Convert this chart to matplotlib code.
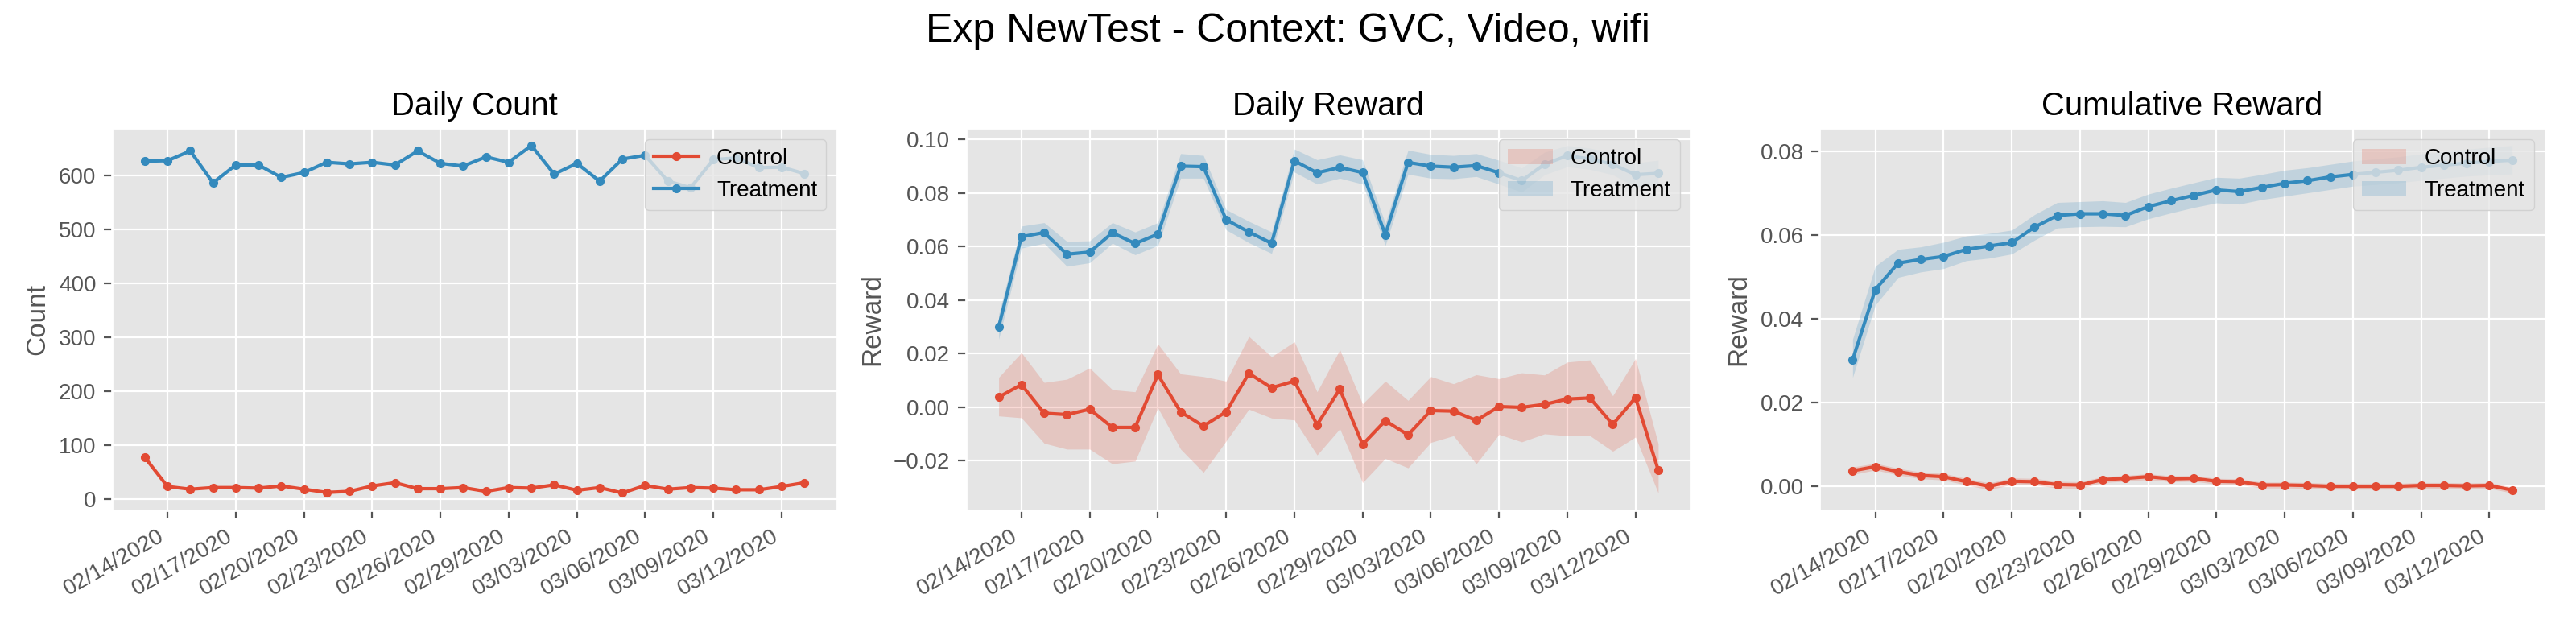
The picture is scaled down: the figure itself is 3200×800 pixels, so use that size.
import numpy as np
import pandas as pd
import matplotlib
matplotlib.use('Agg')
import matplotlib.pyplot as plt
import matplotlib.dates as mdates
plt.style.use('ggplot')
plt.rcParams['font.family'] = ['Liberation Sans', 'DejaVu Sans']

# dates 02/13/2020 .. 03/13/2020
dates = pd.date_range('2020-02-13', '2020-03-13', freq='D')

count_control = [78, 24, 19, 22, 22, 21, 25, 19, 13, 15, 25, 31, 20, 20, 22,
                 15, 22, 21, 27, 17, 22, 12, 26, 19, 22, 21, 18, 18, 24, 31]
count_treatment = [626, 627, 645, 586, 619, 619, 596, 605, 624, 621, 624, 619, 645, 622, 617,
                   634, 624, 655, 602, 622, 589, 630, 637, 589, 577, 629, 632, 614, 615, 603]

daily_control = [0.0037, 0.0084, -0.0023, -0.0028, -0.0008, -0.0076, -0.0076, 0.0121, -0.0018, -0.0071,
                 -0.0018, 0.0126, 0.0072, 0.0097, -0.0066, 0.0067, -0.0140, -0.0051, -0.0104, -0.0013,
                 -0.0015, -0.0050, 0.0002, -0.0001, 0.0010, 0.0030, 0.0034, -0.0065, 0.0035, -0.0235]
daily_control_hi = [0.0111, 0.0203, 0.0092, 0.0104, 0.0146, 0.0065, 0.0057, 0.0236, 0.0124, 0.0114,
                    0.0097, 0.0264, 0.0188, 0.0244, 0.0057, 0.0214, 0.0012, 0.0097, 0.0025, 0.0114,
                    0.0087, 0.0121, 0.0106, 0.0128, 0.0120, 0.0168, 0.0176, 0.0042, 0.0181, -0.0137]
daily_control_lo = [-0.0033, -0.0040, -0.0135, -0.0157, -0.0157, -0.0212, -0.0202, -0.0003, -0.0157, -0.0244,
                    -0.0127, -0.0008, -0.0041, -0.0048, -0.0179, -0.0081, -0.0282, -0.0192, -0.0227, -0.0132,
                    -0.0107, -0.0212, -0.0102, -0.0130, -0.0100, -0.0107, -0.0107, -0.0165, -0.0112, -0.0321]

daily_treatment = [0.0299, 0.0636, 0.0652, 0.0571, 0.0579, 0.0651, 0.0611, 0.0646, 0.0900, 0.0898,
                   0.0700, 0.0654, 0.0612, 0.0920, 0.0875, 0.0895, 0.0876, 0.0644, 0.0914, 0.0900,
                   0.0896, 0.0902, 0.0875, 0.0846, 0.0907, 0.0939, 0.0927, 0.0907, 0.0868, 0.0873]
daily_treatment_hi = [0.0345, 0.0676, 0.0689, 0.0619, 0.0621, 0.0689, 0.0654, 0.0689, 0.0947, 0.0940,
                      0.0738, 0.0694, 0.0654, 0.0964, 0.0924, 0.0942, 0.0924, 0.0686, 0.0960, 0.0944,
                      0.0940, 0.0947, 0.0922, 0.0893, 0.0952, 0.0977, 0.0967, 0.0950, 0.0912, 0.0922]
daily_treatment_lo = [0.0253, 0.0594, 0.0612, 0.0526, 0.0539, 0.0612, 0.0569, 0.0604, 0.0855, 0.0855,
                      0.0662, 0.0614, 0.0574, 0.0878, 0.0833, 0.0855, 0.0833, 0.0604, 0.0870, 0.0855,
                      0.0853, 0.0861, 0.0833, 0.0803, 0.0868, 0.0898, 0.0888, 0.0868, 0.0823, 0.0828]

cum_control = [0.0036, 0.0046, 0.0034, 0.0025, 0.0022, 0.0010, -0.0001, 0.0011, 0.0010, 0.0003,
               0.0002, 0.0015, 0.0018, 0.0022, 0.0017, 0.0018, 0.0011, 0.0010, 0.0002, 0.0002,
               0.0001, -0.0001, -0.0001, -0.0001, -0.0001, 0.0001, 0.0001, 0.0000, 0.0001, -0.0010]
cum_control_hi = [0.0045, 0.0054, 0.0042, 0.0033, 0.0030, 0.0018, 0.0007, 0.0019, 0.0018, 0.0011,
                  0.0010, 0.0022, 0.0025, 0.0029, 0.0024, 0.0025, 0.0018, 0.0017, 0.0009, 0.0009,
                  0.0008, 0.0006, 0.0006, 0.0006, 0.0006, 0.0008, 0.0008, 0.0007, 0.0008, -0.0003]
cum_control_lo = [0.0027, 0.0038, 0.0026, 0.0017, 0.0014, 0.0002, -0.0009, 0.0003, 0.0002, -0.0005,
                  -0.0006, 0.0008, 0.0011, 0.0015, 0.0010, 0.0011, 0.0004, 0.0003, -0.0005, -0.0005,
                  -0.0006, -0.0008, -0.0008, -0.0008, -0.0008, -0.0006, -0.0006, -0.0007, -0.0006, -0.0017]

cum_treatment = [0.0301, 0.0469, 0.0532, 0.0541, 0.0548, 0.0565, 0.0573, 0.0581, 0.0618, 0.0646,
                 0.0650, 0.0650, 0.0646, 0.0667, 0.0681, 0.0694, 0.0707, 0.0703, 0.0713, 0.0723,
                 0.0729, 0.0738, 0.0744, 0.0749, 0.0754, 0.0761, 0.0766, 0.0771, 0.0775, 0.0778]
cum_treatment_hi = [0.0350, 0.0525, 0.0565, 0.0571, 0.0582, 0.0597, 0.0603, 0.0611, 0.0648, 0.0677,
                    0.0679, 0.0681, 0.0677, 0.0697, 0.0711, 0.0724, 0.0737, 0.0735, 0.0744, 0.0754,
                    0.0760, 0.0768, 0.0776, 0.0781, 0.0786, 0.0793, 0.0798, 0.0804, 0.0809, 0.0813]
cum_treatment_lo = [0.0259, 0.0432, 0.0498, 0.0511, 0.0519, 0.0538, 0.0544, 0.0554, 0.0587, 0.0616,
                    0.0619, 0.0620, 0.0619, 0.0638, 0.0652, 0.0665, 0.0676, 0.0673, 0.0684, 0.0692,
                    0.0700, 0.0708, 0.0716, 0.0720, 0.0724, 0.0730, 0.0735, 0.0740, 0.0743, 0.0745]

fig, axes = plt.subplots(1, 3, figsize=(16, 4))

ax = axes[0]
ax.plot(dates, count_control, '.-', label='Control')
ax.plot(dates, count_treatment, '.-', label='Treatment')
ax.set_title('Daily Count')
ax.set_ylabel('Count')
ax.legend(loc='upper right')

ax = axes[1]
ax.plot(dates, daily_control, '.-', color='C0')
ax.fill_between(dates, daily_control_lo, daily_control_hi, color='C0', alpha=0.2, lw=0, label='Control')
ax.plot(dates, daily_treatment, '.-', color='C1')
ax.fill_between(dates, daily_treatment_lo, daily_treatment_hi, color='C1', alpha=0.2, lw=0, label='Treatment')
ax.set_title('Daily Reward')
ax.set_ylabel('Reward')
ax.legend(loc='upper right')

ax = axes[2]
ax.plot(dates, cum_control, '.-', color='C0')
ax.fill_between(dates, cum_control_lo, cum_control_hi, color='C0', alpha=0.2, lw=0, label='Control')
ax.plot(dates, cum_treatment, '.-', color='C1')
ax.fill_between(dates, cum_treatment_lo, cum_treatment_hi, color='C1', alpha=0.2, lw=0, label='Treatment')
ax.set_title('Cumulative Reward')
ax.set_ylabel('Reward')
ax.legend(loc='upper right')

for ax in axes:
    ax.set_xticks(dates[1::3])
    ax.xaxis.set_major_formatter(mdates.DateFormatter('%m/%d/%Y'))
    for lbl in ax.get_xticklabels():
        lbl.set_rotation(30)
        lbl.set_ha('right')

fig.suptitle('Exp NewTest - Context: GVC, Video, wifi', fontsize=18)
fig.subplots_adjust(left=0.0434, right=0.988, top=0.801, bottom=0.2075, wspace=0.177)
plt.savefig('out.png', dpi=200)
